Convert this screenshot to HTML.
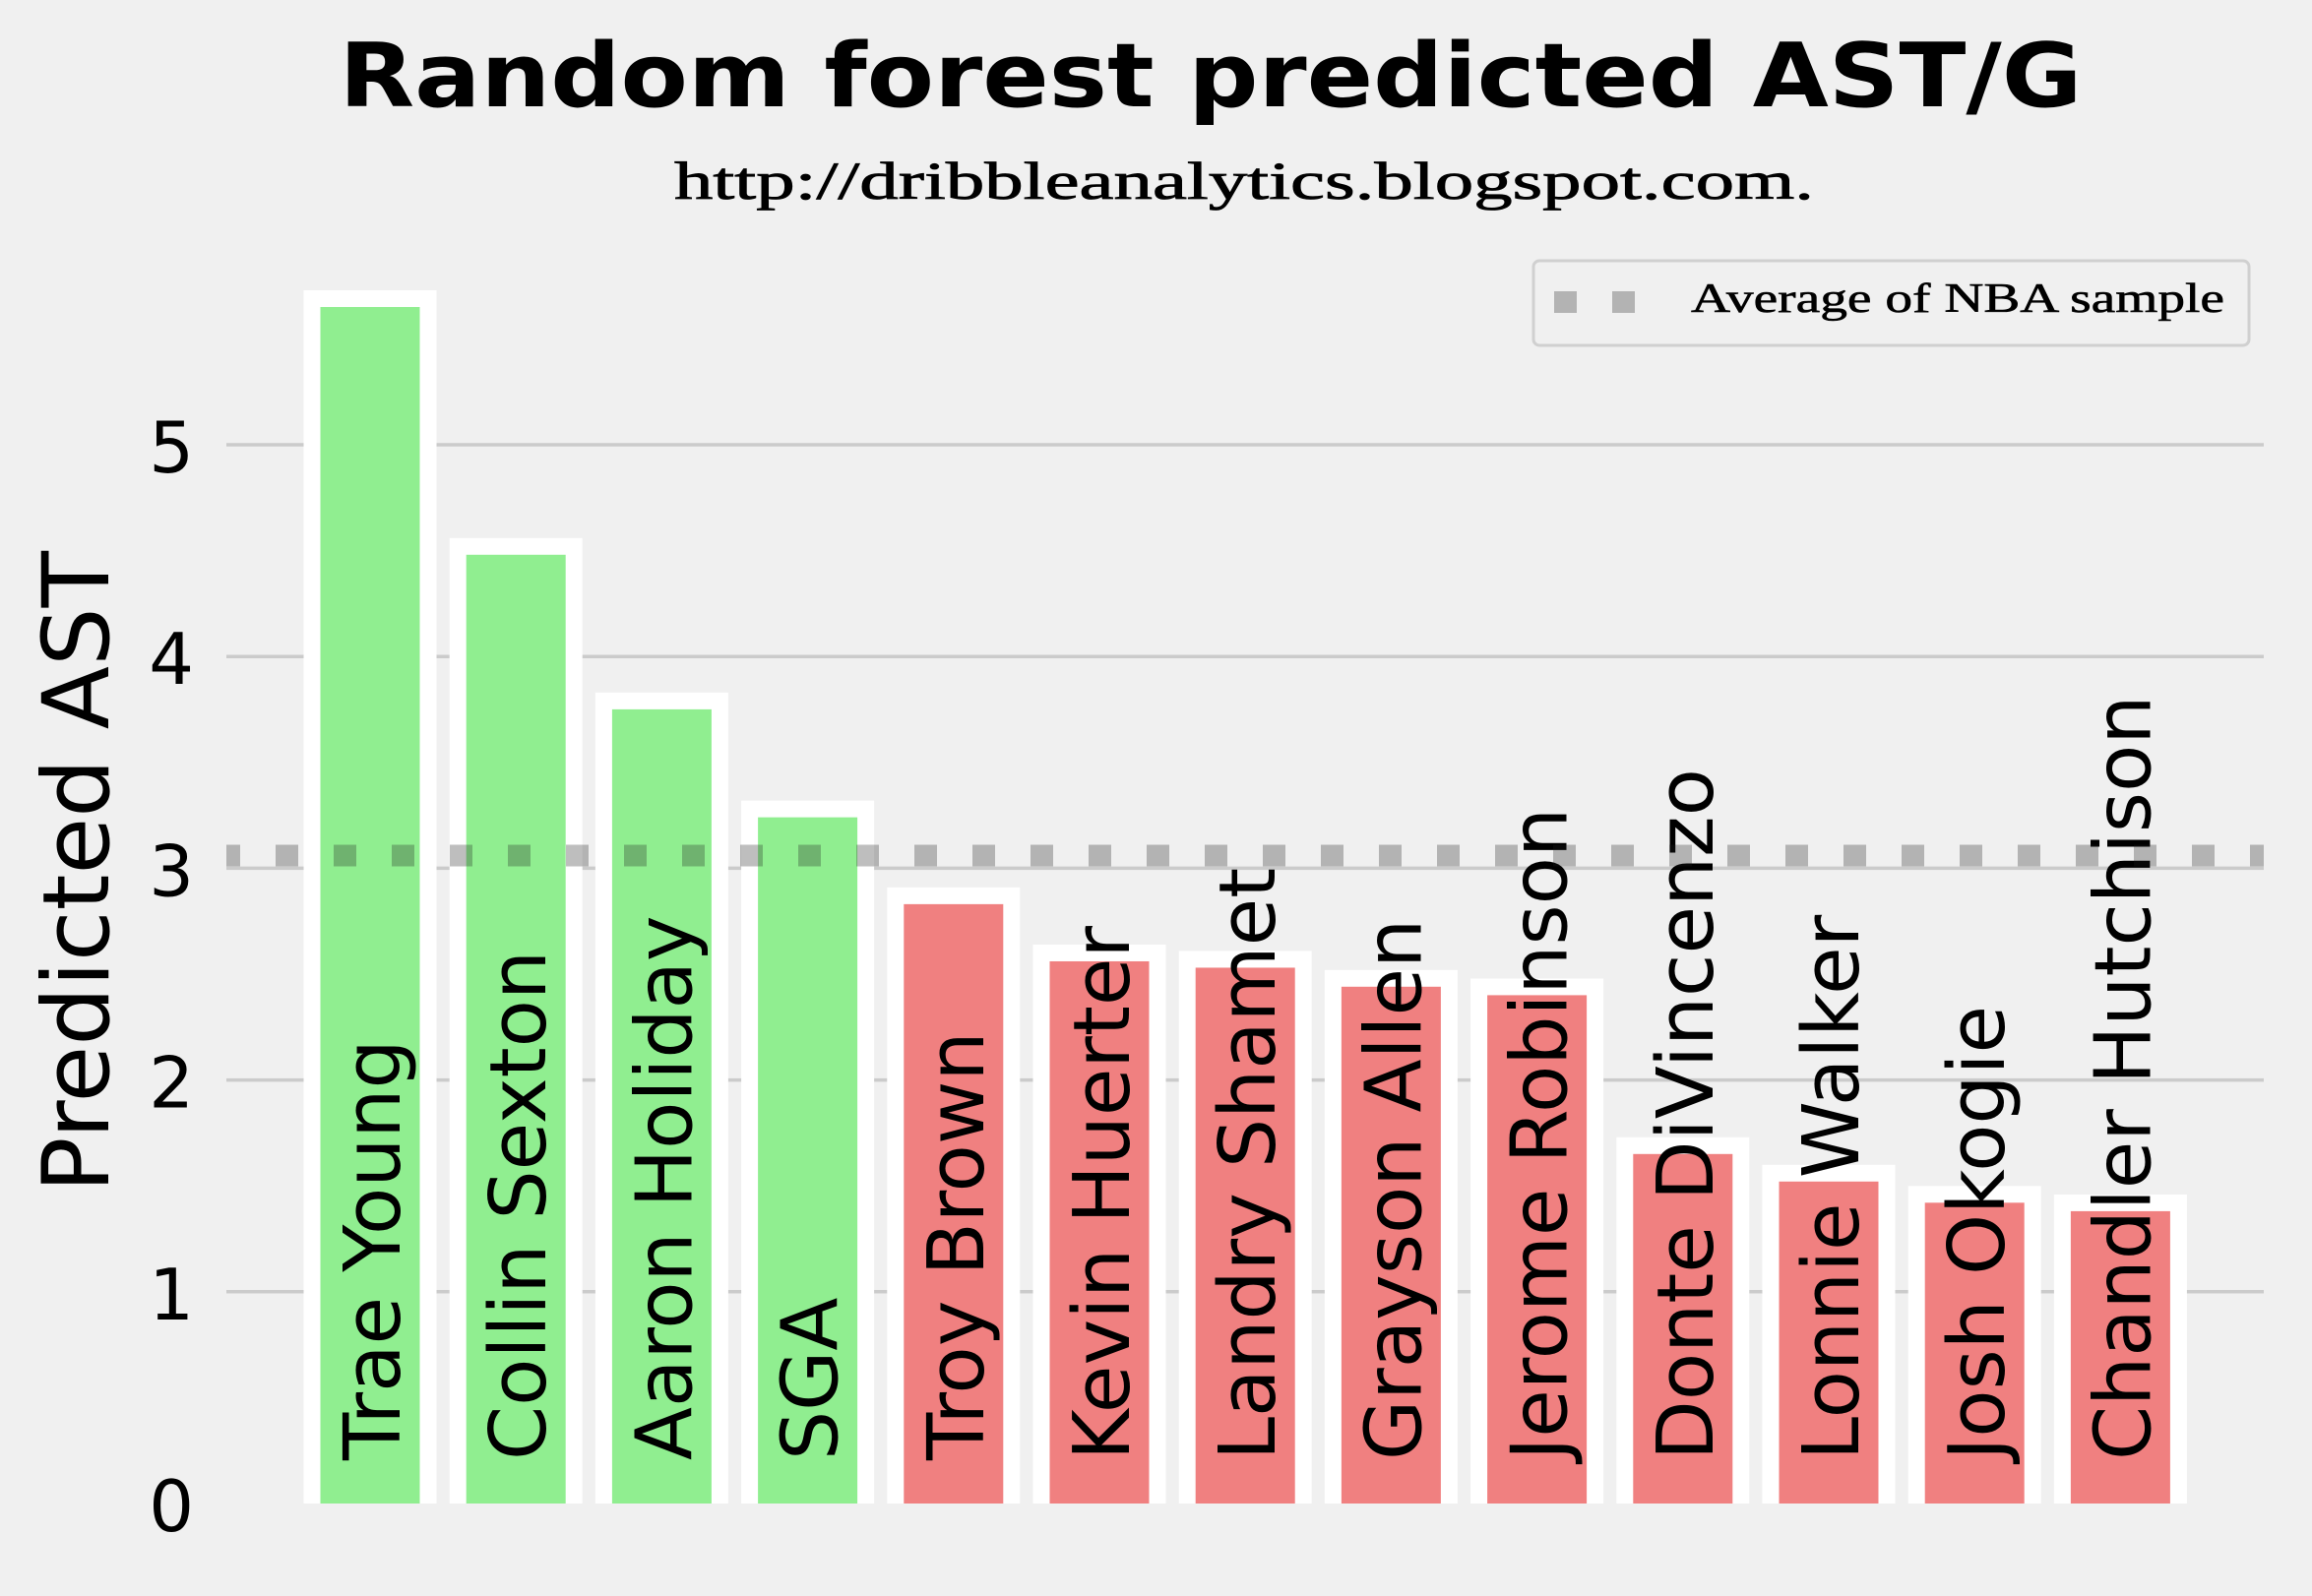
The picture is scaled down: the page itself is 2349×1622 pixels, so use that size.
<!DOCTYPE html>
<html><head><meta charset="utf-8"><style>
html,body{margin:0;padding:0;background:#f0f0f0;}
svg{display:block;}
</style></head><body>
<svg id="chart" width="2349" height="1622" viewBox="0 0 2349 1622" xmlns="http://www.w3.org/2000/svg">
<rect width="2349" height="1622" fill="#f0f0f0"/>
<text x="1230" y="108" text-anchor="middle" font-family="DejaVu Sans, Liberation Sans, sans-serif" font-weight="bold" font-size="90" textLength="1771" lengthAdjust="spacingAndGlyphs">Random forest predicted AST/G</text>
<text x="1264" y="202" text-anchor="middle" font-family="Liberation Serif, serif" font-size="54" textLength="1158" lengthAdjust="spacingAndGlyphs" stroke="#000" stroke-width="0.8">http://dribbleanalytics.blogspot.com.</text>
<text transform="translate(110,886) rotate(-90)" text-anchor="middle" font-family="DejaVu Sans, Liberation Sans, sans-serif" font-size="94" textLength="652" lengthAdjust="spacingAndGlyphs">Predicted AST</text>
<g id="grid"></g>
<g id="bars"></g>
<g id="ticks"></g>
<g id="labels"></g>
<g id="avg"></g>
<g>
<rect x="1558" y="265" width="727" height="86" rx="6" fill="#f0f0f0" stroke="#d0d0d0" stroke-width="3"/>
<rect x="1579" y="296" width="23" height="22" fill="#b3b3b3"/>
<rect x="1638" y="296" width="23" height="22" fill="#b3b3b3"/>
<text x="1718" y="317" font-family="Liberation Serif, serif" font-size="42" stroke="#000" stroke-width="0.6" textLength="542" lengthAdjust="spacingAndGlyphs">Average of NBA sample</text>
</g>
</svg>
<script>
const players = ["Trae Young","Collin Sexton","Aaron Holiday","SGA","Troy Brown","Kevin Huerter","Landry Shamet","Grayson Allen","Jerome Robinson","Donte DiVincenzo","Lonnie Walker","Josh Okogie","Chandler Hutchison"];
const predictedAst = [5.69,4.52,3.79,3.28,2.87,2.60,2.57,2.48,2.44,1.69,1.56,1.46,1.42];
const nbaAverage = 3.06;
const yTicks = [0,1,2,3,4,5];

const NS = "http://www.w3.org/2000/svg";
const y0 = 1528, unit = 215.2;
const yScale = v => y0 - v * unit;
const step = 148.2, x0 = 376;
const xScale = i => x0 + i * step;
const barW = 118;
const gridL = 230, gridR = 2300;

function mk(tag, attrs, parent) {
  const el = document.createElementNS(NS, tag);
  for (const k in attrs) el.setAttribute(k, attrs[k]);
  parent.appendChild(el);
  return el;
}
const grid = document.getElementById('grid');
const ticks = document.getElementById('ticks');
yTicks.forEach(t => {
  if (t > 0) {
    const l = mk('line', {x1: gridL, x2: gridR, y1: yScale(t), y2: yScale(t), stroke: '#cbcbcb', 'stroke-width': 3.5}, grid);
    
    
  }
  const tx = mk('text', {x: 197, y: yScale(t) + 28, 'text-anchor': 'end', 'font-family': 'DejaVu Sans, Liberation Sans, sans-serif', 'font-size': 72}, ticks);
  tx.textContent = t;
  
  
});
const bars = document.getElementById('bars');
const labels = document.getElementById('labels');
players.forEach((p, i) => {
  const v = predictedAst[i];
  const cx = xScale(i);
  const top = yScale(v);
  const r = mk('rect', {x: cx - barW/2, y: top, width: barW, height: y0 - top + 10, fill: i < 4 ? '#90ee90' : '#f08080', stroke: '#ffffff', 'stroke-width': 17}, bars);
  
  
  const t = mk('text', {transform: 'translate(' + (cx + 30) + ',1484) rotate(-90)', 'font-family': 'DejaVu Sans, Liberation Sans, sans-serif', 'font-size': 79}, labels);
  t.textContent = p;
  
  
});
const cover = mk('rect', {x: 230, y: y0, width: 2119, height: 95, fill: '#f0f0f0'}, bars);


const avg = document.getElementById('avg');
const ay = yScale(nbaAverage);
const defs = mk('clipPath', {id: 'axclip'}, avg);
mk('rect', {x: gridL, y: 0, width: gridR - gridL, height: 1622}, defs);
const al = mk('line', {x1: 221, x2: gridR + 30, y1: ay, y2: ay, stroke: 'rgba(30,30,30,0.29)', 'stroke-width': 22, 'stroke-dasharray': '23 36', 'clip-path': 'url(#axclip)'}, avg);


</script>
</body></html>
